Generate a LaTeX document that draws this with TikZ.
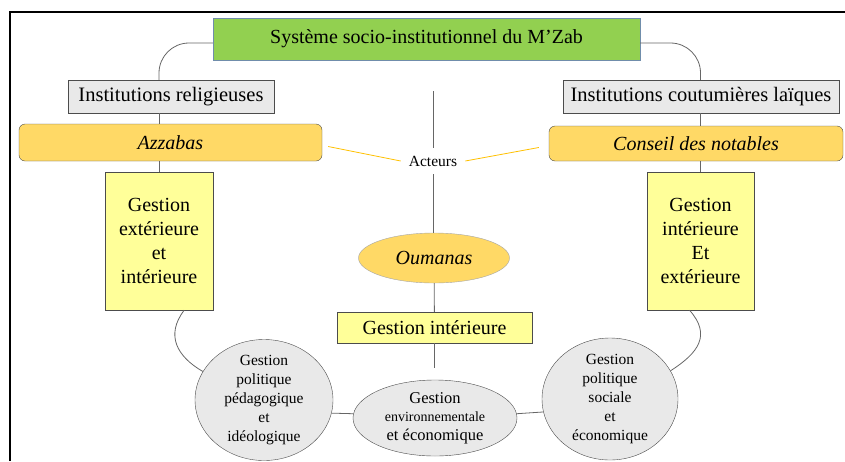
\documentclass[tikz,border=0pt]{standalone}
\usepackage{fontspec}
\setmainfont{Liberation Serif}
\usetikzlibrary{calc,shapes.geometric}
\definecolor{mzabgreen}{RGB}{146,208,80}
\definecolor{mzabframe}{RGB}{112,141,171}
\definecolor{mzabgrey}{RGB}{233,233,233}
\definecolor{mzabgold}{RGB}{255,217,102}
\definecolor{mzabyellow}{RGB}{255,255,153}
\definecolor{mzabline}{RGB}{255,192,0}
\newcommand{\BigText}{\fontsize{20}{24}\selectfont}
\newcommand{\SmallText}{\fontsize{15.5}{19}\selectfont}
\tikzset{Square/.style={
    inner sep=0pt,
    draw=black!70,
    fill=mzabyellow,
    align=center,
    font=\BigText,
    },
    Round/.style={
    ellipse,
    inner xsep=0pt,
    inner ysep=-5pt,
    draw=black!70,
    fill=mzabgrey,
    align=center,
    font=\SmallText,
    }
}

\begin{document}
\begin{tikzpicture}[x=1pt, y=-1pt,
    link/.style={draw=black!60, line width=0.8pt},
    yline/.style={draw=mzabline, line width=0.8pt},
]
\useasboundingbox (0,0) rectangle (845,461);
\draw[line width=1.6pt] (10,461) -- (10,12) -- (845,12);

% top level
\node [Square, fill=mzabgreen, draw=mzabframe, minimum width=427pt, minimum height=42pt] (title) at (426.5,39) {Système socio-institutionnel du M’Zab};
\node [Square, fill=mzabgrey, minimum width=206pt, minimum height=33pt, font=\fontsize{20.5}{24}\selectfont] (relig) at (171,96.5) {Institutions religieuses};
\node [Square, fill=mzabgrey, minimum width=276pt, minimum height=33pt, font=\fontsize{20.5}{24}\selectfont] (coutum) at (701,96.5) {Institutions coutumières laïques};
\node [Square, fill=mzabgold, rounded corners=6pt, minimum width=303pt, minimum height=37pt, font=\BigText\itshape] (azzabas) at (170.5,142.5) {Azzabas};
\node [Square, fill=mzabgold, rounded corners=6pt, minimum width=294pt, minimum height=35pt, font=\BigText\itshape] (conseil) at (696,143.5) {Conseil des notables};
\node [Square, minimum width=108pt, minimum height=138pt] (gestL) at (159,241) {Gestion\\extérieure\\et\\intérieure};
\node [Square, minimum width=107pt, minimum height=138pt] (gestR) at (700.5,241) {Gestion\\intérieure\\Et\\extérieure};

% middle
\node [inner xsep=8pt, inner ysep=8pt, font=\fontsize{15.5}{18}\selectfont] (acteurs) at (433,161) {Acteurs};
\node [Round, inner ysep=0pt, fill=mzabgold, draw=black!35, minimum width=151pt, minimum height=50pt, font=\BigText\itshape] (oumanas) at (434,258) {Oumanas};
\node [Square, minimum width=195pt, minimum height=31pt] (gestI) at (434.5,327.5) {Gestion intérieure};

% bottom
\node [Round, minimum width=138pt, minimum height=121pt] (circL) at (264,400) {Gestion\\politique\\pédagogique\\et\\idéologique};
\node [Round, inner ysep=-3pt, minimum width=164pt, minimum height=76pt, font=\fontsize{16.5}{18.5}\selectfont] (ellM) at (435,418) {Gestion\\{\fontsize{14}{18.5}\selectfont environnementale}\\et économique};
\node [Round, minimum width=136pt, minimum height=122pt] (circR) at (610,399) {Gestion\\politique\\sociale\\et\\économique};

\draw[link, rounded corners=30pt] ([yshift=-4pt]title.west) -| (gestL |- relig.north);
\draw[link, rounded corners=30pt] ([yshift=-4pt]title.east) -| (gestR |- coutum.north);
\draw[link] (gestL |- relig.south) -- (gestL |- azzabas.north);
\draw[link] (gestL |- azzabas.south) -- (gestL.north);
\draw[link] (gestR |- coutum.south) -- (gestR |- conseil.north);
\draw[link] (gestR |- conseil.south) -- (gestR.north);

\coordinate (top) at (433,91);
\coordinate (bottom) at (434.5,368);
\draw[link] (top) -- (acteurs);
\draw[link] (acteurs) -- (acteurs |- oumanas.north);
\draw[link] (oumanas) -- (gestI);
\draw[link] (gestI) -- (bottom);
\draw[yline] ([shift={(6,4)}]azzabas.east) -- (acteurs.west);
\draw[yline] (acteurs.east) -- ([shift={(-10,4)}]conseil.west);

\draw[link] (gestL.-70) .. controls +(-19,25) and +(-26,-15) .. (circL.155);
\draw[link] (gestR.-99) .. controls +(22,25) and +(28,-18) .. (circR.25);
\draw[link] (circL.-11) -- (ellM.177);
\draw[link] (ellM.3) -- (circR.191);
\end{tikzpicture}
\end{document}
